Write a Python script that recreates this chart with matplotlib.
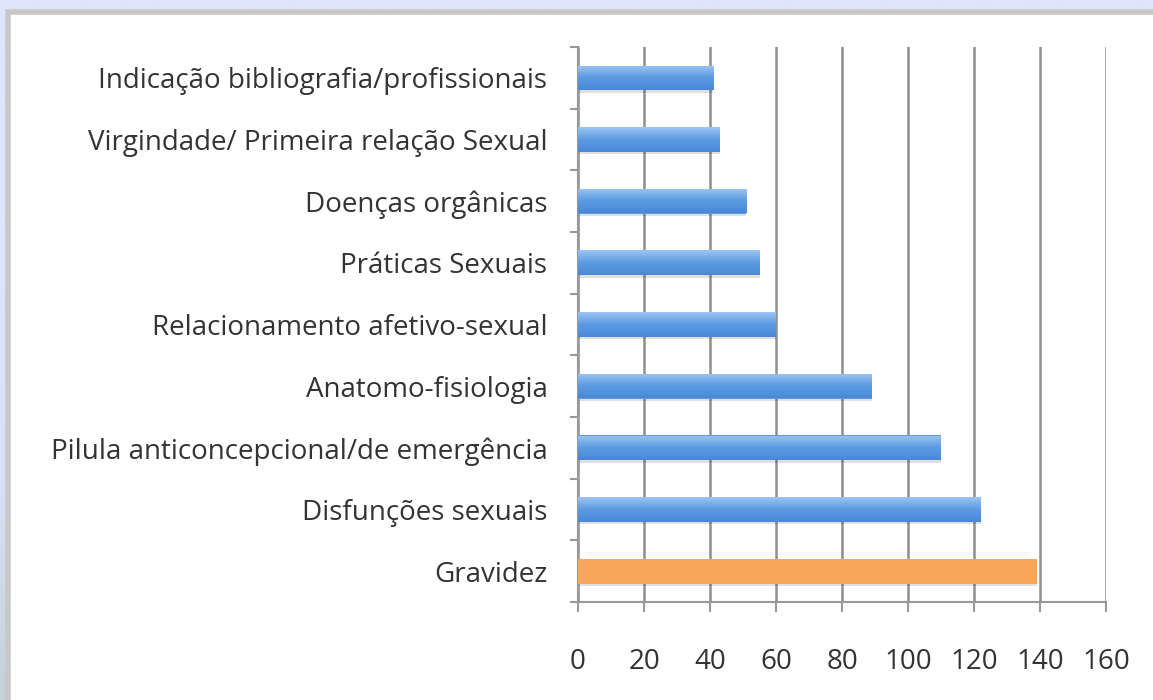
import numpy as np
import matplotlib.pyplot as plt
from matplotlib.patches import Rectangle
from matplotlib.colors import LinearSegmentedColormap

# data (bottom to top)
categorias = ["Gravidez",
              "Disfunções sexuais",
              "Pilula anticoncepcional/de emergência",
              "Anatomo-fisiologia",
              "Relacionamento afetivo-sexual",
              "Práticas Sexuais",
              "Doenças orgânicas",
              "Virgindade/ Primeira relação Sexual",
              "Indicação bibliografia/profissionais"]
valores = [139, 122, 110, 89, 60, 55, 51, 43, 41]
xticks = [0, 20, 40, 60, 80, 100, 120, 140, 160]

plt.rcParams['font.family'] = ['Open Sans', 'DejaVu Sans']

fig = plt.figure(figsize=(11.53, 7), dpi=100)
fig.patch.set_facecolor("#dfe5fb")

# background: lavender fading to grey-blue at the bottom
bg = fig.add_axes([0, 0, 1, 1], zorder=-3)
bg_cmap = LinearSegmentedColormap.from_list("bg", ["#c4d2da", "#d9e1f8", "#dfe5fb", "#dfe5fb"])
bg.imshow(np.linspace(0, 1, 256).reshape(-1, 1), cmap=bg_cmap, aspect="auto",
          extent=[0, 1, 0, 1], origin="lower")
bg.axis("off")

# white panel with grey border
panel = Rectangle((8/1153, -0.01), 1.0, 1 - 12/700 + 0.01, transform=fig.transFigure,
                  facecolor="white", edgecolor="#c8c8c8", linewidth=4, zorder=-1)
fig.add_artist(panel)

ax = fig.add_axes([578/1153, 1 - 602/700, 528/1153, 555/700])
ax.set_facecolor("none")
ax.set_zorder(2)

y = np.arange(len(categorias))
cores = ["#f7a658"] + ["#5b9be2"] * (len(categorias) - 1)
# soft shadow under the bars
ax.barh(y - 0.04, valores, height=0.4, color="#000000", alpha=0.12, zorder=2)
bars = ax.barh(y, valores, height=0.4, color=cores, zorder=3)

# vertical gradient on the blue bars
blue = LinearSegmentedColormap.from_list("blue", ["#4a88d6", "#5b9be2", "#9cc4f4"])
grad = np.linspace(0, 1, 64).reshape(-1, 1)
for b in bars[1:]:
    x0, y0 = b.get_x(), b.get_y()
    im = ax.imshow(grad, cmap=blue, aspect="auto", origin="lower",
                   extent=[x0, x0 + b.get_width(), y0, y0 + b.get_height()], zorder=4)
    im.set_clip_path(b)

ax.set_xlim(0, 160)
ax.set_ylim(-0.5, len(categorias) - 0.5)
ax.set_xticks(xticks)
ax.set_xticklabels([str(v) for v in xticks], fontsize=20, color="#333333")
ax.set_yticks(y)
ax.set_yticklabels(categorias, fontsize=20, color="#333333")
ax.set_yticks(np.arange(-0.5, len(categorias), 1), minor=True)

ax.tick_params(axis="y", which="major", length=0, pad=22)
ax.tick_params(axis="y", which="minor", length=6, color="#999999", width=1.5)
ax.tick_params(axis="x", length=7, color="#999999", width=1.5, pad=26)

ax.grid(axis="x", color="#8f8f8f", linewidth=1.8, zorder=1)
for s in ["top", "right"]:
    ax.spines[s].set_visible(False)
for s in ["left", "bottom"]:
    ax.spines[s].set_color("#999999")
    ax.spines[s].set_linewidth(1.5)

fig.savefig("out.png", dpi=100, facecolor=fig.get_facecolor())
